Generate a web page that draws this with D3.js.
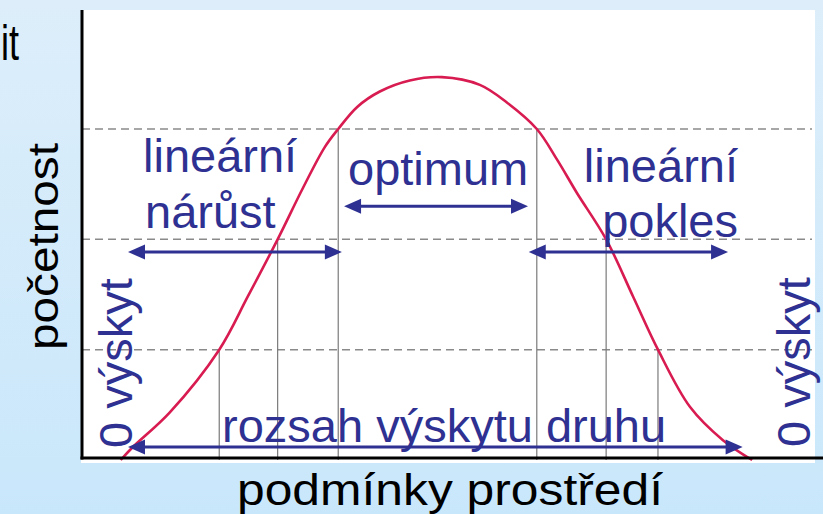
<!DOCTYPE html>
<html>
<head>
<meta charset="utf-8">
<script src="https://cdn.jsdelivr.net/npm/d3@7"></script>
<style>
  html, body { margin: 0; padding: 0; background: #d6ebfa; }
  svg { display: block; }
</style>
</head>
<body>
<div id="chart"></div>
<script>
// ---------- data ----------
const conditions = [5.3, 7.0, 12.0, 18.8, 22.7, 26.8, 30.3, 33.3, 35.1, 37.7, 40.8, 44.9, 49.3, 54.5, 58.2, 62.3, 65.1, 67.8, 71.8, 75.5, 78.9, 83.3, 87.8, 91.8];
const abundance  = [0, 0.12, 0.43, 1.0, 1.48, 2.0, 2.47, 2.84, 3.0, 3.2, 3.34, 3.44, 3.47, 3.40, 3.24, 3.0, 2.72, 2.42, 2.0, 1.48, 1.0, 0.48, 0.18, 0];

const levels        = [1, 2, 3];
const leftCrossing  = [18.8, 26.8, 35.1];
const rightCrossing = [78.9, 71.8, 62.3];

const arrowStart = [6.3, 35.9, 61.2, 6.3];
const arrowEnd   = [35.6, 61.1, 88.5, 90.5];
const arrowLevel = [1.885, 2.30, 1.885, 0.118];

const xTitle = "podmínky prostředí";
const yTitle = "početnost";
const cornerText = "it";
const zeroLabel = "0 výskyt";
const zoneLines = [["lineární", "nárůst"], ["optimum"], ["lineární", "pokles"]];
const rangeLabel = "rozsah výskytu druhu";

// ---------- layout ----------
const W = 823, H = 514;
const svg = d3.select("#chart").append("svg").attr("width", W).attr("height", H);

const defs = svg.append("defs");
const grad = defs.append("linearGradient").attr("id", "bg").attr("x1", 0).attr("y1", 0).attr("x2", 0).attr("y2", 1);
grad.append("stop").attr("offset", "0%").attr("stop-color", "#ddeefa");
grad.append("stop").attr("offset", "100%").attr("stop-color", "#c9e7fb");
svg.append("rect").attr("width", W).attr("height", H).attr("fill", "url(#bg)");

// white plot panel
svg.append("rect").attr("x", 81).attr("y", 10).attr("width", 734).attr("height", 453).attr("fill", "#ffffff");

const x = d3.scaleLinear().domain([0, 100]).range([82, 812]);
const y = d3.scaleLinear().domain([0, 3]).range([460, 129]);

const blue = "#2e3192";
const font = "'Liberation Sans', Arial, sans-serif";

// dashed horizontal lines
svg.append("g").selectAll("line").data(levels).join("line")
  .attr("x1", x(0)).attr("x2", x(100) )
  .attr("y1", d => y(d)).attr("y2", d => y(d))
  .attr("stroke", "#8a8a8a").attr("stroke-width", 1.5)
  .attr("stroke-dasharray", "8,5");

// vertical thin lines
const verts = levels.map((l, i) => ({ x: leftCrossing[i], l }))
  .concat(levels.map((l, i) => ({ x: rightCrossing[i], l })));
svg.append("g").selectAll("line").data(verts).join("line")
  .attr("x1", d => x(d.x)).attr("x2", d => x(d.x))
  .attr("y1", y(0)).attr("y2", d => y(d.l))
  .attr("stroke", "#7a7a7a").attr("stroke-width", 1.2);

// curve
const pts = conditions.map((c, i) => [c, abundance[i]]);
const line = d3.line().x(d => x(d[0])).y(d => y(d[1])).curve(d3.curveCatmullRom.alpha(0.5));
svg.append("path").datum(pts).attr("d", line)
  .attr("fill", "none").attr("stroke", "#d81b50").attr("stroke-width", 2.6);

// axes
svg.append("line").attr("x1", 82).attr("x2", 82).attr("y1", 10).attr("y2", 459.5)
  .attr("stroke", "#000").attr("stroke-width", 3);
svg.append("line").attr("x1", 80.5).attr("x2", W).attr("y1", 458).attr("y2", 458)
  .attr("stroke", "#000").attr("stroke-width", 3);

// arrows
const arrows = arrowStart.map((s, i) => ({ s, e: arrowEnd[i], l: arrowLevel[i] }));
const ag = svg.append("g");
const headL = 17, headW = 7.5;
arrows.forEach(a => {
  const x1 = x(a.s), x2 = x(a.e), yy = y(a.l);
  ag.append("line").attr("x1", x1 + headL - 2).attr("x2", x2 - headL + 2)
    .attr("y1", yy).attr("y2", yy).attr("stroke", blue).attr("stroke-width", 3.2);
  ag.append("path").attr("d", `M${x1},${yy} L${x1 + headL},${yy - headW} L${x1 + headL},${yy + headW} Z`).attr("fill", blue);
  ag.append("path").attr("d", `M${x2},${yy} L${x2 - headL},${yy - headW} L${x2 - headL},${yy + headW} Z`).attr("fill", blue);
});

// blue labels
const tg = svg.append("g").attr("font-family", font).attr("fill", blue).attr("font-size", 47);
tg.append("text").attr("x", 143).attr("y", 172).text(zoneLines[0][0]);
tg.append("text").attr("x", 145).attr("y", 228).text(zoneLines[0][1]);
tg.append("text").attr("x", 348).attr("y", 185).text(zoneLines[1][0]);
tg.append("text").attr("x", 738).attr("y", 182).attr("text-anchor", "end").text(zoneLines[2][0]);
tg.append("text").attr("x", 738).attr("y", 237).attr("text-anchor", "end").text(zoneLines[2][1]);
tg.append("text").attr("x", 222).attr("y", 442).text(rangeLabel);
tg.append("text").attr("transform", "translate(132,448) rotate(-90)").text(zeroLabel);
tg.append("text").attr("transform", "translate(810,447) rotate(-90)").text(zeroLabel);

// black titles
const bg = svg.append("g").attr("font-family", font).attr("fill", "#000");
bg.append("text").attr("x", 237).attr("y", 505).attr("font-size", 45)
  .attr("textLength", 426).attr("lengthAdjust", "spacingAndGlyphs").text(xTitle);
bg.append("text").attr("transform", "translate(58,350) rotate(-90)").attr("font-size", 42)
  .attr("textLength", 207).attr("lengthAdjust", "spacingAndGlyphs").text(yTitle);
bg.append("text").attr("x", 1).attr("y", 60).attr("font-size", 50)
  .attr("textLength", 18).attr("lengthAdjust", "spacingAndGlyphs").text(cornerText);
</script>
</body>
</html>
